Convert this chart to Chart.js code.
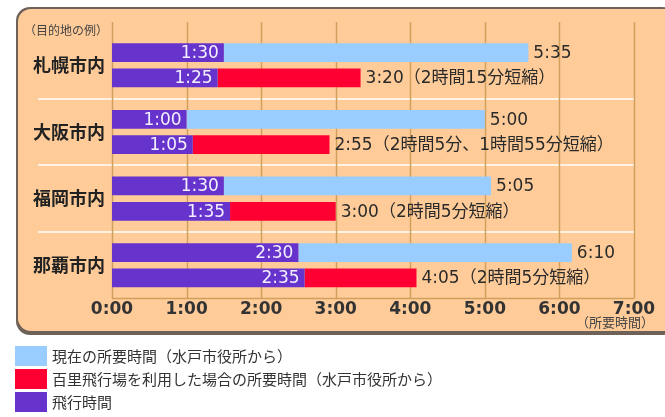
<!DOCTYPE html>
<html>
<head>
<meta charset="utf-8">
<script src="https://cdn.jsdelivr.net/npm/chart.js@4"></script>
<style>
  html, body { margin: 0; padding: 0; background: #ffffff; }
  #wrap { position: relative; width: 665px; height: 417px; overflow: hidden; }
  #c { position: absolute; left: 0; top: 0; }
  #legend { position: absolute; left: 15px; top: 344px; font-family: "Noto Sans CJK JP", sans-serif; font-size: 15px; color: #333; }
  .item { height: 23px; display: flex; align-items: center; }
  .box { width: 32px; height: 20px; margin-right: 5px; }
</style>
</head>
<body>
<div id="wrap">
  <canvas id="c" width="665" height="417"></canvas>
  <div id="legend"></div>
</div>
<script>
// ---- data (minutes) ----
const categories = ['札幌市内', '大阪市内', '福岡市内', '那覇市内'];
const flightNow = [90, 60, 90, 150];          // 飛行時間 (現在)
const totalNow = [335, 300, 305, 370];        // 現在の所要時間
const flightHyakuri = [85, 65, 95, 155];      // 飛行時間 (百里)
const totalHyakuri = [200, 175, 180, 245];    // 百里飛行場を利用した場合の所要時間
const flightNowLabels = ['1:30', '1:00', '1:30', '2:30'];
const flightHyakuriLabels = ['1:25', '1:05', '1:35', '2:35'];
const totalNowLabels = ['5:35', '5:00', '5:05', '6:10'];
const totalHyakuriLabels = ['3:20（2時間15分短縮）', '2:55（2時間5分、1時間55分短縮）', '3:00（2時間5分短縮）', '4:05（2時間5分短縮）'];
const tickValues = [0, 60, 120, 180, 240, 300, 360, 420];
const tickLabels = ['0:00', '1:00', '2:00', '3:00', '4:00', '5:00', '6:00', '7:00'];
const legendNames = ['現在の所要時間（水戸市役所から）', '百里飛行場を利用した場合の所要時間（水戸市役所から）', '飛行時間'];
const cornerNote = '（目的地の例）';
const axisNote = '（所要時間）';

const C_BLUE = '#99ccff', C_RED = '#ff0033', C_PURPLE = '#6633cc';
const restNow = totalNow.map((t, i) => t - flightNow[i]);
const restHyakuri = totalHyakuri.map((t, i) => t - flightHyakuri[i]);

const labelFont = '17px "DejaVu Sans", "Noto Sans CJK JP", sans-serif';

const panelPlugin = {
  id: 'panel',
  beforeDraw(chart) {
    const ctx = chart.ctx;
    ctx.save();
    ctx.fillStyle = '#6e6258';
    ctx.beginPath(); ctx.roundRect(16, 7, 660, 328, 14); ctx.fill();
    ctx.fillStyle = '#ffcc99';
    ctx.beginPath(); ctx.roundRect(18, 9, 660, 322, 13); ctx.fill();
    ctx.restore();
  },
  beforeDatasetsDraw(chart) {
    const ctx = chart.ctx, x = chart.scales.x, y = chart.scales.y, a = chart.chartArea;
    ctx.save();
    // white separators between categories
    ctx.strokeStyle = '#fff3e6'; ctx.lineWidth = 2;
    for (let i = 0; i < categories.length - 1; i++) {
      const py = Math.round(y.getPixelForValue(i + 0.5));
      ctx.beginPath(); ctx.moveTo(38, py); ctx.lineTo(x.getPixelForValue(tickValues[tickValues.length - 1]), py); ctx.stroke();
    }
    // vertical golden grid lines
    ctx.strokeStyle = '#cf9f5c'; ctx.lineWidth = 1.5;
    tickValues.forEach(v => {
      const px = Math.round(x.getPixelForValue(v)) + 0.5;
      ctx.beginPath(); ctx.moveTo(px, a.top - 10); ctx.lineTo(px, a.bottom); ctx.stroke();
    });
    ctx.beginPath(); ctx.moveTo(a.left, a.bottom); ctx.lineTo(a.right, a.bottom); ctx.stroke();
    ctx.restore();
  },
  afterDatasetsDraw(chart) {
    const ctx = chart.ctx;
    ctx.save();
    ctx.font = labelFont;
    ctx.textBaseline = 'middle';
    chart.data.datasets.forEach((ds, di) => {
      const meta = chart.getDatasetMeta(di);
      meta.data.forEach((bar, i) => {
        const txt = ds.valueLabels[i];
        if (ds.inside) {
          ctx.fillStyle = '#f3efff'; ctx.textAlign = 'right';
          ctx.fillText(txt, bar.x - 5, bar.y + 1);
        } else {
          ctx.fillStyle = '#2a2a2a'; ctx.textAlign = 'left';
          ctx.fillText(txt, bar.x + 5, bar.y + 1);
        }
      });
    });
    // notes
    ctx.fillStyle = '#444444';
    ctx.font = '12px "Noto Sans CJK JP", sans-serif';
    ctx.textAlign = 'left';
    ctx.fillText(cornerNote, 24, 30);
    ctx.font = '13px "Noto Sans CJK JP", sans-serif';
    ctx.textAlign = 'right';
    ctx.fillText(axisNote, 654, 322);
    ctx.restore();
  }
};

new Chart(document.getElementById('c'), {
  type: 'bar',
  data: {
    labels: categories,
    datasets: [
      { label: legendNames[2], data: flightNow, backgroundColor: C_PURPLE, stack: 'now', inside: true, valueLabels: flightNowLabels },
      { label: legendNames[0], data: restNow, backgroundColor: C_BLUE, stack: 'now', inside: false, valueLabels: totalNowLabels },
      { label: legendNames[2], data: flightHyakuri, backgroundColor: C_PURPLE, stack: 'hyakuri', inside: true, valueLabels: flightHyakuriLabels },
      { label: legendNames[1], data: restHyakuri, backgroundColor: C_RED, stack: 'hyakuri', inside: false, valueLabels: totalHyakuriLabels }
    ]
  },
  options: {
    indexAxis: 'y',
    responsive: false,
    animation: false,
    devicePixelRatio: 1,
    layout: { padding: { left: 26, right: 31, top: 32, bottom: 96 } },
    categoryPercentage: 0.76,
    barPercentage: 0.74,
    scales: {
      x: {
        stacked: true,
        min: 0, max: 420,
        afterBuildTicks(scale) { scale.ticks = tickValues.map(v => ({ value: v })); },
        ticks: {
          callback: (v) => tickLabels[tickValues.indexOf(v)],
          color: '#333333',
          font: { family: '"DejaVu Sans", sans-serif', size: 17, weight: 'bold' },
          padding: 1,
          maxRotation: 0
        },
        grid: { display: false, drawTicks: false },
        border: { display: false }
      },
      y: {
        ticks: {
          color: '#222222',
          font: { family: '"Noto Sans CJK JP", sans-serif', size: 18, weight: 'bold' },
          padding: 7
        },
        grid: { display: false, drawTicks: false },
        border: { display: false }
      }
    },
    plugins: {
      legend: { display: false },
      tooltip: { enabled: false }
    }
  },
  plugins: [panelPlugin]
});

// HTML legend built from the series colours
const legendEl = document.getElementById('legend');
[[C_BLUE, legendNames[0]], [C_RED, legendNames[1]], [C_PURPLE, legendNames[2]]].forEach(([col, name]) => {
  const row = document.createElement('div'); row.className = 'item';
  const b = document.createElement('div'); b.className = 'box'; b.style.background = col;
  const t = document.createElement('span'); t.textContent = name;
  row.appendChild(b); row.appendChild(t); legendEl.appendChild(row);
});
</script>
</body>
</html>
